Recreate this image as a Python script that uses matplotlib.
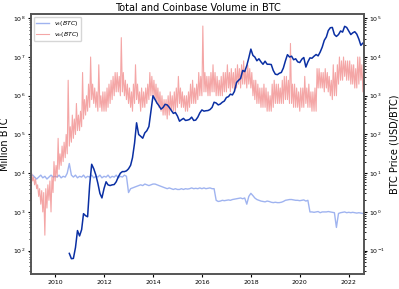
import numpy as np
import pandas as pd
import matplotlib.pyplot as plt
import matplotlib.dates as mdates

# v_b (BTC): log10 values, two per month (Jan 2009 - Aug 2022)
vb_log = [
    4.0, 3.8, 3.9, 3.7, 3.85, 3.6, 3.7, 3.4, 3.6, 3.2, 3.55, 3.0,
    3.5, 2.4, 3.6, 3.1, 3.7, 3.3, 3.8, 3.0, 3.9, 3.5, 4.3, 3.8,  # 2009
    4.2, 3.9, 4.9, 4.1, 4.5, 4.2, 4.7, 4.3, 4.8, 4.4, 5.0, 4.5,
    6.4, 4.7, 5.2, 4.8, 5.5, 4.9, 5.4, 5.0, 5.8, 5.1, 5.5, 5.1,  # 2010
    5.6, 5.2, 6.6, 5.4, 5.9, 5.5, 6.0, 5.6, 6.3, 5.7, 7.0, 5.9,
    6.3, 5.8, 6.2, 5.7, 6.1, 5.6, 6.8, 5.7, 6.0, 5.6, 6.1, 5.6,  # 2011
    6.1, 5.6, 6.2, 5.7, 6.3, 5.8, 6.4, 5.9, 6.5, 6.0, 6.6, 6.1,
    6.6, 6.1, 6.5, 6.0, 7.5, 6.1, 6.6, 6.0, 6.4, 5.9, 6.3, 5.8,  # 2012
    6.2, 5.7, 6.1, 5.6, 6.3, 5.8, 6.8, 5.9, 6.3, 5.8, 6.1, 5.6,
    6.2, 5.7, 6.1, 5.7, 6.2, 5.8, 6.3, 5.9, 6.6, 6.0, 6.5, 6.0,  # 2013
    6.4, 5.9, 6.3, 5.8, 6.2, 5.7, 6.1, 5.6, 6.0, 5.5, 5.9, 5.5,
    5.9, 5.4, 6.0, 5.5, 6.1, 5.6, 6.0, 5.6, 6.1, 5.6, 6.2, 5.7,  # 2014
    6.5, 5.8, 6.2, 5.7, 6.1, 5.7, 6.0, 5.6, 6.0, 5.6, 6.1, 5.7,
    6.3, 5.8, 6.4, 5.8, 6.2, 5.8, 6.3, 5.9, 6.6, 6.0, 6.5, 6.0,  # 2015
    7.8, 6.1, 6.6, 6.1, 6.5, 6.0, 6.5, 6.0, 6.6, 6.1, 6.8, 6.1,
    6.6, 6.0, 6.5, 6.0, 6.4, 6.0, 6.5, 6.0, 6.6, 6.1, 6.6, 6.1,  # 2016
    6.8, 6.2, 6.6, 6.1, 6.7, 6.2, 6.6, 6.1, 6.7, 6.2, 6.8, 6.3,
    6.7, 6.2, 6.8, 6.3, 6.9, 6.3, 6.7, 6.2, 6.8, 6.3, 6.7, 6.2,  # 2017
    6.6, 6.0, 6.4, 5.9, 6.4, 5.8, 6.3, 5.8, 6.2, 5.7, 6.2, 5.7,
    6.3, 5.7, 6.2, 5.6, 6.1, 5.6, 6.0, 5.6, 6.3, 5.7, 6.4, 5.8,  # 2018
    6.3, 5.8, 6.3, 5.8, 6.2, 5.8, 6.4, 5.8, 6.5, 5.9, 6.5, 5.9,
    6.4, 5.8, 7.35, 5.8, 6.3, 5.7, 6.3, 5.7, 6.2, 5.7, 6.1, 5.6,  # 2019
    6.2, 5.7, 6.2, 5.7, 6.5, 5.8, 6.2, 5.7, 6.3, 5.7, 6.1, 5.6,
    6.1, 5.6, 6.2, 5.6, 6.7, 6.2, 6.7, 6.2, 6.6, 6.2, 6.6, 6.1,  # 2020
    6.7, 6.2, 6.6, 6.1, 6.5, 6.0, 6.4, 5.9, 6.8, 6.0, 6.6, 6.0,
    6.8, 6.3, 7.0, 6.4, 6.9, 6.4, 7.0, 6.5, 6.9, 6.4, 6.9, 6.4,  # 2021
    6.9, 6.3, 6.8, 6.3, 6.8, 6.2, 6.7, 6.2, 7.0, 6.3, 7.0, 6.4,
    6.8, 6.1, 6.9, 6.3,  # 2022
]

# v_t (BTC): log10 values, one per month (Jan 2009 - Aug 2022)
vt_log = [
    3.95, 3.9, 3.85, 3.9, 3.95, 3.88, 3.92, 3.85, 3.9, 3.95, 3.9, 3.92,
    3.9, 3.95, 3.88, 3.92, 3.9, 4.0, 4.25, 3.95, 3.9, 3.95, 3.88, 3.92,
    3.9, 3.95, 3.88, 3.92, 3.9, 3.95, 3.88, 3.92, 3.9, 3.95, 3.88, 3.92,
    3.9, 3.95, 3.88, 3.92, 3.9, 3.95, 3.88, 3.92, 3.9, 3.95, 3.92, 3.5,
    3.6, 3.62, 3.64, 3.66, 3.68, 3.7, 3.68, 3.72, 3.7, 3.68, 3.7, 3.72,
    3.72, 3.7, 3.68, 3.66, 3.64, 3.62, 3.6, 3.62, 3.6, 3.58, 3.6, 3.58,
    3.58, 3.6, 3.58, 3.6, 3.59, 3.6, 3.62, 3.6, 3.61, 3.6, 3.62, 3.6,
    3.62, 3.6, 3.61, 3.62, 3.6, 3.6, 3.3, 3.27, 3.28, 3.3, 3.29, 3.3,
    3.31, 3.3, 3.32, 3.33, 3.34, 3.35, 3.36, 3.34, 3.36, 3.2, 3.4, 3.48,
    3.42, 3.36, 3.32, 3.3, 3.28, 3.27, 3.26, 3.28, 3.27, 3.25, 3.24, 3.25,
    3.24, 3.24, 3.25, 3.27, 3.3, 3.31, 3.32, 3.32, 3.31, 3.3, 3.3, 3.29,
    3.3, 3.31, 3.28, 3.3, 3.0, 3.0, 2.99, 3.0, 3.01, 2.98, 3.0, 3.0,
    3.0, 3.01, 3.0, 2.99, 2.98, 2.6, 2.96, 2.98, 2.99, 3.0, 2.98, 2.99,
    2.98, 2.99, 2.98, 2.97, 2.98, 2.97, 2.96, 2.97,
]

# BTC price (USD/BTC), one per month (Jul 2010 - Aug 2022)
price = [
    0.085, 0.062, 0.063, 0.12, 0.33, 0.24,
    0.35, 0.9, 0.8, 0.75, 5.0, 17.0, 13.0, 9.0, 5.5, 3.0, 2.3, 4.0,
    6.0, 5.0, 4.8, 5.0, 5.1, 6.0, 8.0, 10.0, 11.0, 11.0, 11.5, 13.0,
    16.0, 25.0, 60.0, 200.0, 100.0, 90.0, 80.0, 110.0, 125.0, 160.0, 400.0, 1000.0,
    800.0, 650.0, 550.0, 450.0, 500.0, 600.0, 580.0, 500.0, 420.0, 350.0, 370.0, 300.0,
    220.0, 240.0, 260.0, 230.0, 235.0, 245.0, 280.0, 230.0, 235.0, 280.0, 360.0, 430.0,
    400.0, 410.0, 415.0, 440.0, 500.0, 680.0, 650.0, 580.0, 610.0, 680.0, 730.0, 900.0,
    950.0, 1100.0, 1050.0, 1300.0, 2200.0, 2500.0, 2800.0, 4500.0, 4200.0, 6000.0, 9500.0, 16000.0,
    11000.0, 10000.0, 8000.0, 9000.0, 7500.0, 6500.0, 7800.0, 6500.0, 6500.0, 6400.0, 4500.0, 3600.0,
    3500.0, 3800.0, 4000.0, 5200.0, 8000.0, 11500.0, 10000.0, 10500.0, 8500.0, 9000.0, 7500.0, 7200.0,
    8800.0, 9700.0, 5500.0, 7500.0, 9500.0, 9300.0, 10500.0, 11600.0, 10700.0, 13500.0, 18000.0, 27000.0,
    33000.0, 48000.0, 57000.0, 58000.0, 38000.0, 34000.0, 38000.0, 47000.0, 44000.0, 62000.0, 58000.0, 47000.0,
    38000.0, 42000.0, 45000.0, 39000.0, 29000.0, 20000.0, 23000.0, 22000.0,
]

t_half = pd.date_range("2009-01-08", periods=len(vb_log), freq="SMS")
t_month = pd.date_range("2009-01-08", periods=len(vt_log), freq="MS")
t_price = pd.date_range("2010-07-15", periods=len(price), freq="MS")

vb = 10 ** np.array(vb_log)
vt = 10 ** np.array(vt_log)

fig = plt.figure(figsize=(3.99, 2.89), dpi=100)
ax = fig.add_axes([0.078, 0.052, 0.834, 0.9])

ax.plot(t_month, vt, color="royalblue", lw=1.0, alpha=0.5, label=r"$v_t(BTC)$")
ax.plot(t_half, vb, color="lightcoral", lw=0.8, alpha=0.7, label=r"$v_b(BTC)$")
ax.set_yscale("log")
ax.set_ylim(25, 1.3e8)
ax.set_xlim(pd.Timestamp("2009-01-08"), pd.Timestamp("2022-08-15"))
ax.set_ylabel("Million BTC", fontsize=7, labelpad=2)
ax.set_title("Total and Coinbase Volume in BTC", fontsize=7, pad=2)
ax.xaxis.set_major_locator(mdates.YearLocator(2))
ax.xaxis.set_major_formatter(mdates.DateFormatter("%Y"))
ax.tick_params(labelsize=4.5, length=2.5, pad=1.5)
ax.tick_params(which="minor", length=1.5)
ax.legend(loc="upper left", fontsize=4.5, handlelength=2.0, borderpad=0.35,
          labelspacing=0.3)

ax2 = ax.twinx()
ax2.plot(t_price, price, color="#0a2fa3", lw=1.1)
ax2.set_yscale("log")
ax2.set_ylim(0.025, 1.3e5)
ax2.set_ylabel("BTC Price (USD/BTC)", fontsize=7, labelpad=3)
ax2.tick_params(labelsize=4.5, length=2.5, pad=1.5)
ax2.tick_params(which="minor", length=1.5)

for a in (ax, ax2):
    for s in a.spines.values():
        s.set_color("#555555")
        s.set_linewidth(1.2)

fig.savefig("out.png", dpi=100)
